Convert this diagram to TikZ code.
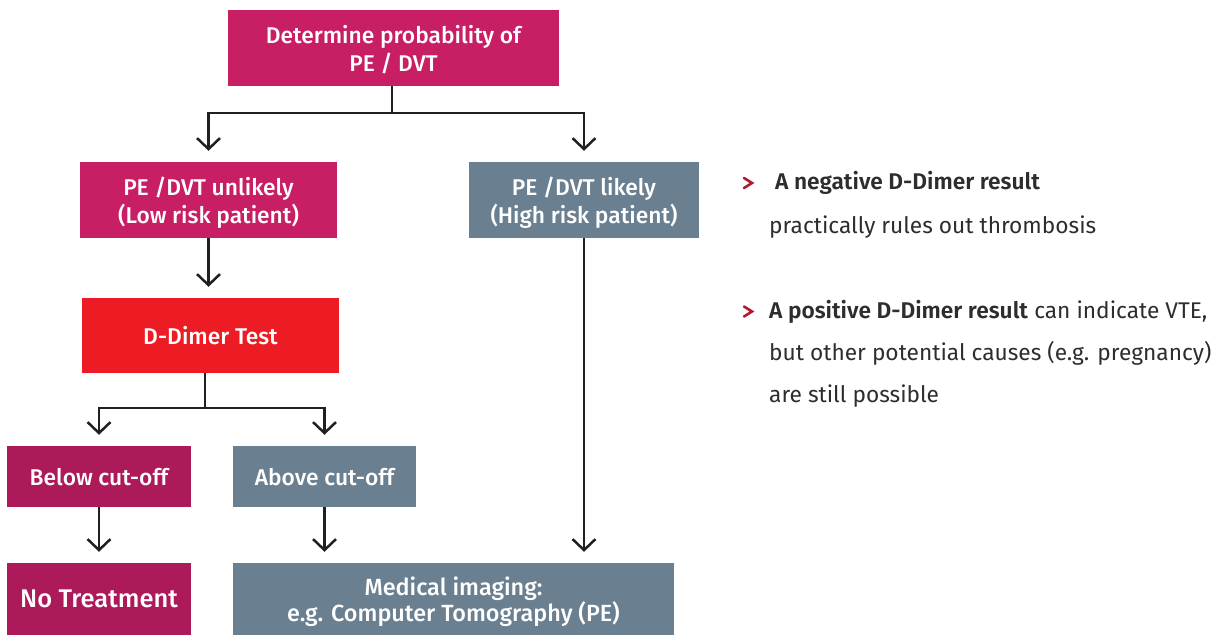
\documentclass[tikz,border=0pt]{standalone}
\usepackage{fontspec}
\setmainfont{Fira Sans}[BoldFont={Fira Sans SemiBold}]
\newfontfamily\boxfont{Fira Sans Medium}
\usetikzlibrary{arrows.meta}
\definecolor{pemag}{HTML}{C81E63}
\definecolor{pedark}{HTML}{AD1A5A}
\definecolor{pered}{HTML}{ED1C24}
\definecolor{pegrey}{HTML}{6A8091}
\definecolor{peline}{HTML}{231F20}
\definecolor{petext}{HTML}{2D2D2D}
\definecolor{pebullet}{HTML}{B01C2E}
\tikzset{
  box/.style={inner sep=0pt, text=white, align=center, text depth=0pt, font=\boxfont\fontsize{22.8}{28}\selectfont},
  arr/.style={draw=peline, line width=2.5pt, -{Straight Barb[length=11pt,width=23pt]}, shorten >=11pt},
  conn/.style={draw=peline, line width=2.5pt},
  bullet/.style={draw=pebullet, line width=2.6pt, line cap=round},
  rtext/.style={anchor=base west, inner sep=0pt, text=petext, font=\fontsize{22.7}{26}\selectfont}
}
\begin{document}
\begin{tikzpicture}[x=1pt,y=-1pt]
\useasboundingbox (0,0) rectangle (1216,635);
% boxes
\node[box, fill=pemag, minimum width=331pt, minimum height=76pt] (top) at (393.5,48) {Determine probability of\\PE / DVT};
\node[box, fill=pemag, minimum width=257pt, minimum height=76pt] (unl) at (208.5,200) {PE /DVT unlikely\\(Low risk patient)};
\node[box, fill=pegrey, minimum width=230pt, minimum height=76pt] (lik) at (584,200) {PE /DVT likely\\(High risk patient)};
\node[box, fill=pered, minimum width=257pt, minimum height=75pt] (dd) at (210.5,335.5) {D-Dimer Test};
\node[box, fill=pedark, minimum width=184pt, minimum height=61pt] (below) at (99,476.5) {Below cut-off};
\node[box, fill=pegrey, minimum width=183pt, minimum height=61pt] (above) at (324.5,476.5) {Above cut-off};
\node[box, fill=pedark, minimum width=184pt, minimum height=72pt, font=\boxfont\fontsize{25.5}{30}\selectfont] (notr) at (99,599) {No Treatment};
\node[box, fill=pegrey, minimum width=441pt, minimum height=72pt, font=\boxfont\fontsize{23.4}{22}\selectfont] (med) at (453.5,599) {Medical imaging:\\e.g. Computer Tomography (PE)};
% connectors
\coordinate (j1) at (392,113);
\coordinate (j2) at (205,408);
\draw[conn] (top.south -| j1) -- (j1);
\draw[arr] (j1) -| (unl.north);
\draw[arr] (j1) -| (lik.north);
\draw[arr] (unl.south) -- (unl.south |- dd.north);
\draw[conn] (dd.south -| j2) -- (j2);
\draw[arr] (j2) -| (below.north);
\draw[arr] (j2) -| (above.north);
\draw[arr] (below.south) -- (below.south |- notr.north);
\draw[arr] (above.south) -- (above.south |- med.north);
\draw[arr] (lik.south) -- (lik.south |- med.north);
% right-hand text
\draw[bullet] (744,178) -- (752,183) -- (744,188);
\draw[bullet] (744,306.5) -- (752,311.5) -- (744,316.5);
\node[rtext] (t1) at (775,189) {\bfseries A negative D-Dimer result};
\node[rtext] (t2) at (769,233) {practically rules out thrombosis};
\node[rtext] (t3) at (769,318) {\textbf{A positive D-Dimer result} can indicate VTE,};
\node[rtext] (t4) at (769,360) {but other potential causes (e.g. pregnancy)};
\node[rtext] (t5) at (769,402) {are still possible};
\end{tikzpicture}
\end{document}
